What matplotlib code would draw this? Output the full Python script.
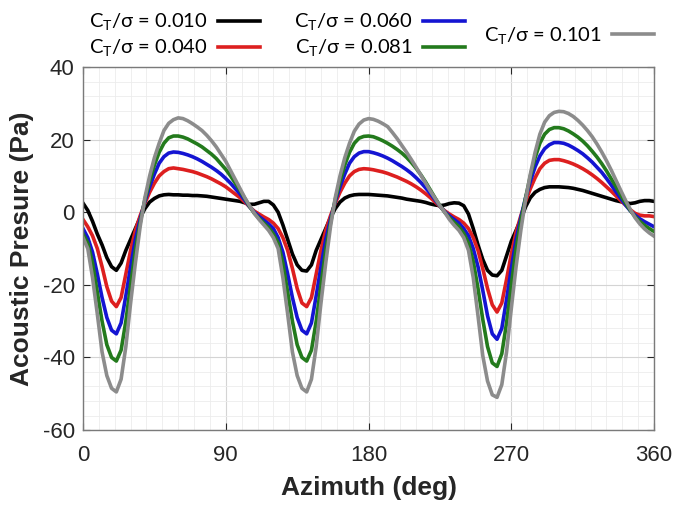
import matplotlib
matplotlib.use("Agg")
import matplotlib.pyplot as plt
import numpy as np
from matplotlib.ticker import MultipleLocator

# azimuth samples (deg), every 3 deg
azimuth = np.arange(0, 361, 3)

ct_010 = [2.5, 0.5, -2.5, -6, -9, -12.5, -15, -16, -14, -10.5,
          -7.5, -4.5, -1.5, 1, 2.8, 3.8, 4.5, 4.8, 4.9, 4.8,
          4.8, 4.7, 4.7, 4.6, 4.6, 4.5, 4.4, 4.2, 4.0, 3.8,
          3.6, 3.4, 3.2, 3.0, 2.6, 2.2, 2.2, 2.6, 3.0, 3.0,
          2.0, 0.0, -3.5, -7.5, -11.5, -14.5, -16, -16.2,
          -14.5, -10.5, -7.5, -4.5, -1.5, 1, 2.8, 3.9, 4.5, 4.8,
          4.9, 4.9, 4.9, 4.8, 4.7, 4.6, 4.5, 4.3, 4.1, 3.9,
          3.6, 3.4, 3.2, 3.0, 2.7, 2.3, 2.0, 1.8, 2.0, 2.4,
          2.6, 2.5, 1.8, -0.5, -4.5, -9, -13, -16, -17.3, -17.5,
          -16, -12, -8, -5, -2, 1.5, 4, 5.5, 6.3, 6.8,
          7, 7, 7, 6.9, 6.8, 6.6, 6.3, 6, 5.6, 5.2,
          4.8, 4.4, 4, 3.6, 3.2, 2.9, 2.6, 2.4, 2.6, 3,
          3.2, 3.2, 3]

ct_040 = [-2, -4, -6.5, -10, -15, -20.5, -24.5, -26, -23.5, -17,
          -10.5, -5, -1, 2.5, 5.5, 8, 10, 11.2, 12, 12.2,
          12, 11.8, 11.5, 11.2, 10.8, 10.3, 9.8, 9.2, 8.5, 7.8,
          7, 6, 5, 4, 2.8, 1.5, 0.3, -0.5, -1.3, -2,
          -3, -4.5, -7, -10.5, -15.5, -21, -25, -26,
          -23.5, -17, -10.5, -5, -1, 2.5, 5.5, 8, 10, 11.2,
          11.8, 12, 11.9, 11.7, 11.4, 11.1, 10.7, 10.2, 9.7, 9.1,
          8.5, 7.8, 7, 6.1, 5.1, 4, 2.8, 1.6, 0.4, -0.5,
          -1.3, -2, -3, -4.5, -7, -10.5, -15.5, -21, -25.5, -27.5,
          -25, -18.5, -11.5, -5.5, -1, 3, 6.5, 9.5, 12, 13.5,
          14.3, 14.5, 14.5, 14.2, 13.8, 13.3, 12.7, 12, 11.2, 10.3,
          9.3, 8.2, 7, 5.8, 4.5, 3.2, 2, 0.7, -0.3, -0.8,
          -1, -1, -1.2]

ct_060 = [-4.5, -7, -11, -17, -23.5, -29, -32.5, -33.5, -30.5, -23,
          -15, -7.5, -2, 3, 7, 10.5, 13.5, 15.3, 16.3, 16.6,
          16.5, 16.2, 15.8, 15.3, 14.7, 14, 13.2, 12.4, 11.5, 10.5,
          9.3, 8, 6.5, 5, 3.3, 1.5, 0, -1.2, -2.2, -3.2,
          -4.5, -7, -11, -17, -23.5, -29, -32.5, -33.5,
          -30.5, -23, -15, -7.5, -2, 3, 7, 10.5, 13.5, 15.3,
          16.3, 16.7, 16.7, 16.4, 16, 15.5, 14.9, 14.2, 13.4, 12.6,
          11.7, 10.7, 9.5, 8.2, 6.7, 5.1, 3.4, 1.7, 0.2, -1,
          -2, -3, -4.5, -6.5, -10, -15, -21.5, -28.5, -33.5, -35,
          -32, -24, -15.5, -7.5, -1.5, 4, 8.5, 12.5, 15.5, 17.5,
          18.6, 19.2, 19.2, 19, 18.5, 17.8, 17, 16.1, 15, 13.8,
          12.4, 11, 9.3, 7.5, 5.6, 3.8, 2, 0.4, -0.8, -1.8,
          -2.6, -3.3, -4]

ct_081 = [-6, -8.5, -14, -22, -30, -36.5, -40, -41, -38, -30,
          -20, -10.5, -3, 3.5, 8.5, 13, 16.5, 19, 20.5, 21,
          21, 20.7, 20.2, 19.5, 18.8, 18, 17, 16, 14.8, 13.3,
          11.8, 10, 8, 6, 3.8, 1.6, -0.3, -1.7, -3, -4.2,
          -6, -8.5, -14, -22, -30, -36.5, -40, -41,
          -38, -30, -20, -10.5, -3, 3.5, 8.5, 13, 16.5, 19,
          20.4, 20.9, 21, 20.8, 20.3, 19.7, 19, 18.2, 17.3, 16.3,
          15.1, 13.7, 12.1, 10.3, 8.3, 6.1, 3.9, 1.8, 0, -1.5,
          -2.8, -4, -5.8, -8.5, -13.5, -21, -29.5, -37, -41.5, -42.5,
          -39, -30.5, -20, -10, -2.5, 4, 10, 15, 19, 21.5,
          22.8, 23.3, 23.3, 23, 22.4, 21.6, 20.7, 19.6, 18.3, 16.8,
          15.2, 13.4, 11.4, 9.2, 7, 4.7, 2.5, 0.5, -1.2, -2.5,
          -3.6, -4.5, -5.3]

ct_101 = [-7, -10, -18, -28, -38.5, -45, -48.5, -49.5, -46, -37,
          -25, -14, -4, 4, 10, 15, 19, 22.5, 24.5, 25.5,
          26, 25.8, 25.2, 24.4, 23.5, 22.5, 21.2, 19.7, 18, 16,
          14, 11.5, 9, 6.5, 4, 1.8, -0.3, -2, -3.5, -5,
          -7, -10, -18, -28, -38.5, -45, -48.5, -49.5,
          -46, -37, -25, -14, -4, 4, 10, 15, 19, 22.3,
          24.3, 25.4, 25.8, 25.6, 25.1, 24.4, 23.6, 22, 20.3, 18.4,
          16.5, 14.5, 12.4, 10.2, 8, 5.8, 3.8, 1.8, 0, -2,
          -3.6, -5, -7, -10.5, -18, -28.5, -39.5, -46.5, -50.3, -51,
          -47.5, -38.5, -26.5, -15, -5, 3.5, 10.5, 16.5, 21.5, 24.8,
          26.6, 27.5, 27.8, 27.7, 27.2, 26.4, 25.3, 24, 22.5, 20.8,
          18.8, 16.6, 14.2, 11.6, 8.8, 6, 3.3, 0.8, -1.5, -3.2,
          -4.6, -5.7, -6.6]

series = [ct_010, ct_040, ct_060, ct_081, ct_101]
labels = [r"C$_\mathregular{T}$/σ = 0.010", r"C$_\mathregular{T}$/σ = 0.040",
          r"C$_\mathregular{T}$/σ = 0.060", r"C$_\mathregular{T}$/σ = 0.081",
          r"C$_\mathregular{T}$/σ = 0.101"]
colors = ["#000000", "#dd1f1f", "#1414d2", "#237a1c", "#8c8c8c"]

plt.rcParams["font.family"] = ["Liberation Sans", "DejaVu Sans"]
plt.rcParams["axes.unicode_minus"] = False

fig = plt.figure(figsize=(6.75, 5.08), dpi=100)
ax = fig.add_axes([0.123, 0.1535, 0.846, 0.7145])

lines = []
for y, lab, c in zip(series, labels, colors):
    ln, = ax.plot(azimuth, y, color=c, lw=2.6, label=lab, solid_joinstyle="round")
    lines.append(ln)

ax.set_xlim(0, 360)
ax.set_ylim(-60, 40)
ax.xaxis.set_major_locator(MultipleLocator(90))
ax.yaxis.set_major_locator(MultipleLocator(20))
ax.xaxis.set_minor_locator(MultipleLocator(10))
ax.yaxis.set_minor_locator(MultipleLocator(4))
ax.grid(which="major", color="#d4d4d4", lw=0.8)
ax.grid(which="minor", color="#ececec", lw=0.6)
ax.set_axisbelow(True)
ax.tick_params(which="major", direction="in", length=5, top=True, right=True,
               labelsize=16, colors="#262626", pad=6, width=0.8)
ax.tick_params(axis="x", which="major", pad=11)
ax.tick_params(which="minor", length=0)
for s in ax.spines.values():
    s.set_color("#7a7a7a")
    s.set_linewidth(1.0)

ax.set_xlabel("Azimuth (deg)", fontsize=19, fontweight="bold", color="#262626", labelpad=7)
ax.set_ylabel("Acoustic Presure (Pa)", fontsize=19, fontweight="bold", color="#262626", labelpad=6)

leg_kw = dict(frameon=False, markerfirst=False, handlelength=2.1,
              handletextpad=0.5, labelspacing=0.25, borderpad=0.2,
              prop={"family": ["Lato", "DejaVu Sans"], "size": 14.5})
l1 = fig.legend([lines[0], lines[1]], [labels[0], labels[1]], loc="upper left",
                bbox_to_anchor=(0.111, 1.005), **leg_kw)
l2 = fig.legend([lines[2], lines[3]], [labels[2], labels[3]], loc="upper left",
                bbox_to_anchor=(0.415, 1.005), **leg_kw)
l3 = fig.legend([lines[4]], [labels[4]], loc="upper left",
                bbox_to_anchor=(0.696, 0.978), **leg_kw)

fig.savefig("out.png", dpi=100)
